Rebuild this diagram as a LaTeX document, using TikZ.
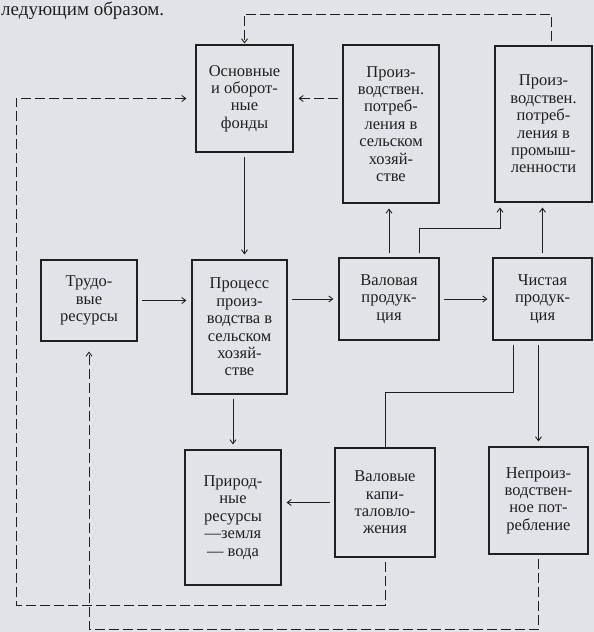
\documentclass[tikz,border=0pt]{standalone}
\usepackage{fontspec}
\setmainfont{Liberation Serif}
\usepackage{tikz}
\usetikzlibrary{
    arrows.meta,
    calc
}

\definecolor{bumaga}{RGB}{226,227,231}
\definecolor{kraska}{RGB}{32,32,34}

\tikzset{
    blok/.style={draw, line width=1.1pt, align=center, inner sep=0pt,
        font=\fontsize{16.5}{17.4}\selectfont},
    svyaz/.style={line width=0.9pt, shorten <=4pt},
    strelka/.style={-{Straight Barb[length=4pt,width=6pt]}, shorten >=5pt},
    punktir/.style={svyaz, dash pattern=on 10pt off 4pt}
}

\begin{document}
\begin{tikzpicture}[x=1pt,y=-1pt,color=kraska]

\useasboundingbox (0,0) rectangle (594,632);
\fill[bumaga] (0,0) rectangle (594,632);

% Line of text above the scheme
\node[anchor=base west, inner sep=0pt, font=\fontsize{19}{19}\selectfont] (zag) at (1,15) {ледующим образом.};

% Upper row
\node[blok, minimum width=97pt, minimum height=107pt] (fondy) at (244.5,98.5)
    {Основные\\и оборот-\\ные\\фонды};
\node[blok, minimum width=96pt, minimum height=158pt] (psh) at (391,124)
    {Произ-\\водствен.\\потреб-\\ления в\\сельском\\хозяй-\\стве};
\node[blok, minimum width=97pt, minimum height=156pt] (pprom) at (543.5,124)
    {Произ-\\водствен.\\потреб-\\ления в\\промыш-\\ленности};

% Middle row
\node[blok, minimum width=96pt, minimum height=81pt] (trud) at (89,300.5)
    {Трудо-\\вые\\ресурсы};
\node[blok, minimum width=95pt, minimum height=134pt] (proc) at (239.5,327)
    {Процесс\\произ-\\водства в\\сельском\\хозяй-\\стве};
\node[blok, minimum width=100pt, minimum height=82pt] (val) at (389,299)
    {Валовая\\продук-\\ция};
\node[blok, minimum width=99pt, minimum height=82pt] (chist) at (542.5,299)
    {Чистая\\продук-\\ция};

% Lower row
\node[blok, minimum width=96pt, minimum height=135pt] (prir) at (233,517.5)
    {Природ-\\ные\\ресурсы\\—земля\\— вода};
\node[blok, minimum width=100pt, minimum height=109pt] (kap) at (385,502.5)
    {Валовые\\капи-\\таловло-\\жения};
\node[blok, minimum width=99pt, minimum height=107pt] (neproiz) at (538.5,500.5)
    {Непроиз-\\водствен-\\ное пот-\\ребление};

% Main flow
\draw[svyaz,strelka] (trud.east) -- (trud.east -| proc.west);
\draw[svyaz,strelka] (proc.east |- val.west) -- (val.west);
\draw[svyaz,strelka] (val) -- (chist);
\draw[svyaz,strelka] (fondy.south) -- (fondy.south |- proc.north);
\draw[svyaz,strelka] (prir.north |- proc.south) -- (prir.north);

% Gross product upwards
\coordinate (razv) at (500,228);
\draw[svyaz,strelka] (val.north) -- (val.north |- psh.south);
\draw[svyaz,strelka] ([xshift=30pt]val.north) |- (razv) -- (razv |- pprom.south);

% Net product
\coordinate (svod) at (385,392);
\draw[svyaz,strelka] (chist.north) -- (chist.north |- pprom.south);
\draw[svyaz] ([xshift=-29.5pt]chist.south) |- (svod) -- (kap.north);
\draw[svyaz,strelka] (neproiz.north |- chist.south) -- (neproiz.north);
\draw[svyaz,strelka] (kap.west) -- (kap.west -| prir.east);

% Dashed returns
\coordinate (verh) at (244.5,14);
\coordinate (nizL) at (16,605);
\coordinate (nizV) at (89,629);
\draw[punktir,strelka] (psh.west |- fondy.east) -- (fondy.east);
\draw[punktir,strelka,shorten >=1pt] ([xshift=7.5pt]pprom.north) |- (verh) -- (fondy.north);
\draw[punktir,strelka,shorten >=9pt] (kap.south) |- (nizL) |- (fondy.west);
\draw[punktir,strelka,shorten >=10pt] (neproiz.south) |- (nizV) -- (trud.south);

\end{tikzpicture}
\end{document}
